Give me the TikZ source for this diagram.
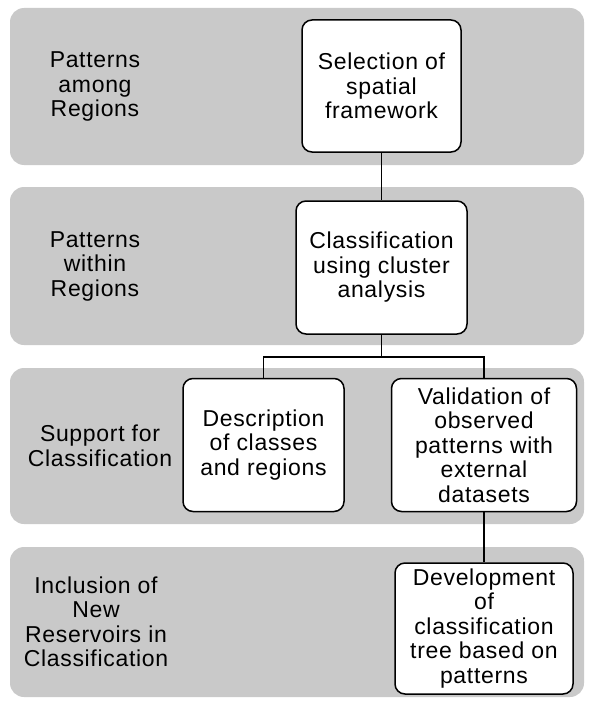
\documentclass[tikz,border=0pt]{standalone}
\usepackage{fontspec}
\setmainfont{Liberation Sans}[LetterSpace=3]
\usetikzlibrary{positioning}
\definecolor{bandgray}{RGB}{201,201,201}

\begin{document}
\begin{tikzpicture}[x=1pt, y=-1pt,
    band/.style={rectangle, 
      rounded corners=14pt, 
      fill=bandgray, 
      minimum width=574pt, 
      anchor=center},
    bandlabel/.style={align=center, 
      inner sep=0pt, 
      font=\fontsize{23}{24.5}\selectfont},
    stepbox/.style={rectangle, 
      draw, 
      line width=1.5pt, 
      rounded corners=10pt, 
      fill=white, 
      align=center, 
      inner sep=2pt, 
      font=\fontsize{23}{24.5}\selectfont},
    link/.style={line width=1.5pt}]
  \useasboundingbox (0,0) rectangle (589,701);

  % BANDS

  \node [band, minimum height=157pt] (amongband) at (297,86.5) {};
  \node [band, minimum height=158pt] (withinband) at (297,266) {};
  \node [band, minimum height=156pt] (supportband) at (297,446) {};
  \node [band, minimum height=150pt] (inclusionband) at (297,622) {};

  \node [bandlabel] (amongtitle) at (95,86.5) {Patterns\\among\\Regions};
  \node [bandlabel] (withintitle) at (95,266) {Patterns\\within\\Regions};
  \node [bandlabel] (supporttitle) at (100,446) {Support for\\Classification};
  \node [bandlabel] (inclusiontitle) at (96,622) {Inclusion of\\New\\Reservoirs in\\Classification};

  % STEPS

  \node [stepbox, minimum width=159pt, minimum height=132pt] (selection) 
    at (381.5,86) {Selection of\\spatial\\framework};

  \node [stepbox, minimum width=171pt, minimum height=133pt] (classify) 
    at (381.5,267.5) {Classification\\using cluster\\analysis};

  \node [stepbox, minimum width=161pt, minimum height=133pt] (describe) 
    at (263.5,445) {Description\\of classes\\and regions};

  \node [stepbox, minimum width=185pt, minimum height=133pt] (validate) 
    at (484,445) {Validation of\\observed\\patterns with\\external\\datasets};

  \node [stepbox, minimum width=178pt, minimum height=131pt, 
    below=50pt of validate] (develop) 
    {Development\\of\\classification\\tree based on\\patterns};

  % CONNECTORS

  \draw[link] (selection.south) -- (classify.north);

  \draw[link] (classify.south) -- ++(0,22) coordinate (split);
  \draw[link] (split) -| (describe.north);
  \draw[link] (split) -| (validate.north);

  \draw[link] (validate.south) -- (develop.north);

\end{tikzpicture}
\end{document}
